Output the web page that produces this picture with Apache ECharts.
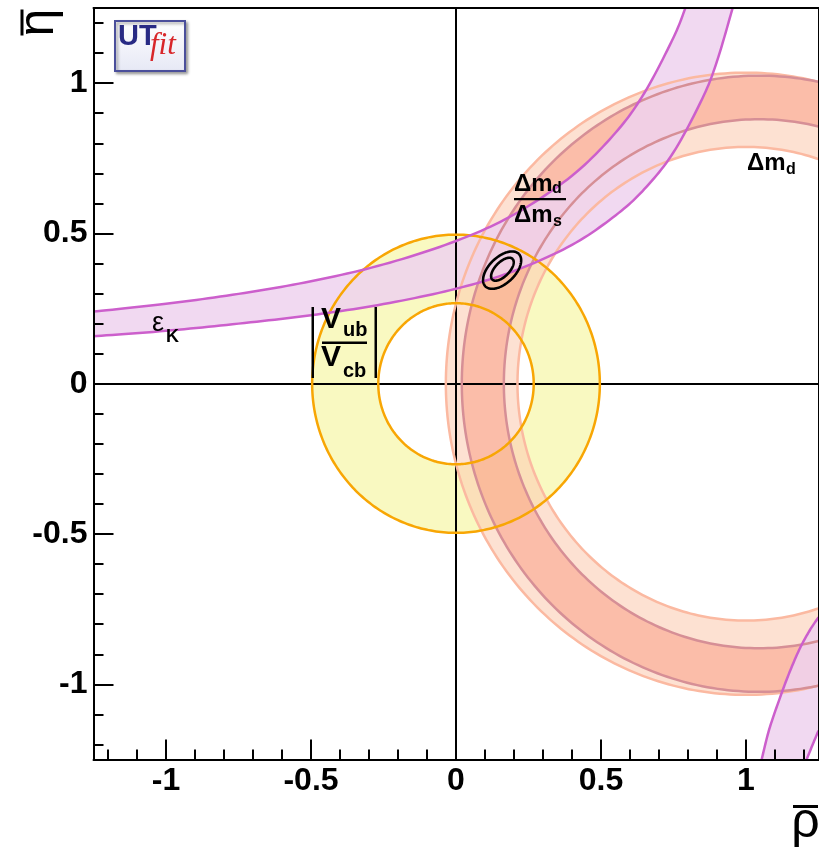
<!DOCTYPE html>
<html>
<head>
<meta charset="utf-8">
<script src="https://cdn.jsdelivr.net/npm/echarts@6/dist/echarts.min.js"></script>
<style>
  html, body { margin: 0; padding: 0; background: #ffffff; }
  #chart { width: 819px; height: 854px; }
</style>
</head>
<body>
<div id="chart"></div>
<script>
// ---- axis ranges and ticks ----
const rhoRange = [-1.25, 1.25];
const etaRange = [-1.25, 1.25];
const majorTicks = [-1, -0.5, 0, 0.5, 1];
const minorTicks = [-1.2, -1.1, -1.0, -0.9, -0.8, -0.7, -0.6, -0.5, -0.4, -0.3, -0.2, -0.1, 0,
                    0.1, 0.2, 0.3, 0.4, 0.5, 0.6, 0.7, 0.8, 0.9, 1.0, 1.1, 1.2];

// ---- ring constraints: [centre rho, centre eta, outer radius, inner radius] ----
const vubVcbRing = [0, 0, 0.496, 0.268];
const dmdRing = [1.0, 0, 1.035, 0.788];
const dmdDmsRing = [1.045, 0, 1.025, 0.88];

// ---- epsilon_K band, upper-left branch: [rho, eta] ----
const epsKUpper = [
  [-1.25, 0.240], [-1.0, 0.266], [-0.75, 0.299], [-0.5, 0.341], [-0.25, 0.397],
  [0.0, 0.475], [0.2, 0.563], [0.4, 0.692], [0.55, 0.835], [0.65, 0.968],
  [0.75, 1.152], [0.791, 1.25]
];
const epsKLower = [
  [-1.25, 0.158], [-1.0, 0.176], [-0.75, 0.200], [-0.5, 0.228], [-0.25, 0.265],
  [0.0, 0.316], [0.2, 0.375], [0.4, 0.462], [0.55, 0.560], [0.65, 0.648],
  [0.75, 0.770], [0.85, 0.950], [0.9, 1.073], [0.954, 1.25]
];
// ---- epsilon_K band, lower-right branch ----
const epsKRightInner = [
  [1.054, -1.25], [1.08, -1.15], [1.117, -1.045], [1.15, -0.96], [1.186, -0.88],
  [1.22, -0.82], [1.25, -0.777]
];
const epsKRightOuter = [
  [1.209, -1.25], [1.23, -1.20], [1.25, -1.154]
];

// ---- fit contours: [rho, eta, semi-major, semi-minor, tilt in degrees] ----
const fitContours = [
  [0.159, 0.378, 0.079, 0.044, 42],
  [0.160, 0.381, 0.049, 0.024, 44]
];

// ---- colours ----
const colYellowFill = '#f9f9c1';
const colOrange = '#f8a604';
const colDmdFill = 'rgba(252,205,180,0.6)';
const colDmdLine = '#fbb9a1';
const colDmsFill = 'rgba(248,150,125,0.48)';
const colDmsLine = '#d68f96';
const colEpsFill = 'rgba(239,210,239,0.85)';
const colEpsLine = '#cc5fcc';

// ---- drawing helpers ----
function catmull(p, seg) {
  if (p.length < 3) return p.slice();
  const out = [];
  for (let i = 0; i < p.length - 1; i++) {
    const p0 = p[Math.max(i - 1, 0)], p1 = p[i], p2 = p[i + 1], p3 = p[Math.min(i + 2, p.length - 1)];
    for (let s = 0; s < seg; s++) {
      const t = s / seg, t2 = t * t, t3 = t2 * t;
      const q = [0, 1].map(k => 0.5 * ((2 * p1[k]) + (-p0[k] + p2[k]) * t +
        (2 * p0[k] - 5 * p1[k] + 4 * p2[k] - p3[k]) * t2 +
        (-p0[k] + 3 * p1[k] - 3 * p2[k] + p3[k]) * t3));
      out.push(q);
    }
  }
  out.push(p[p.length - 1]);
  return out;
}

function circlePoints(api, cx, cy, r, n) {
  const pts = [];
  for (let i = 0; i <= n; i++) {
    const t = 2 * Math.PI * i / n;
    pts.push(api.coord([cx + r * Math.cos(t), cy + r * Math.sin(t)]));
  }
  return pts;
}

function ringFill(ring, color, z) {
  return {
    type: 'custom', coordinateSystem: 'cartesian2d', clip: true, silent: true, z: z,
    dimensions: ['rho', 'eta', 'ro', 'ri'], encode: { x: 'rho', y: 'eta' },
    data: [ring],
    renderItem: function (params, api) {
      const cx = api.value(0), cy = api.value(1), ro = api.value(2), ri = api.value(3);
      const outer = circlePoints(api, cx, cy, ro, 360);
      const inner = circlePoints(api, cx, cy, ri, 360).reverse();
      return { type: 'polygon', shape: { points: outer.concat(inner) }, style: { fill: color, stroke: null } };
    }
  };
}

function ringEdges(ring, color, z) {
  return {
    type: 'custom', coordinateSystem: 'cartesian2d', clip: true, silent: true, z: z,
    dimensions: ['rho', 'eta', 'ro', 'ri'], encode: { x: 'rho', y: 'eta' },
    data: [ring],
    renderItem: function (params, api) {
      const cx = api.value(0), cy = api.value(1);
      return {
        type: 'group',
        children: [api.value(2), api.value(3)].map(r => ({
          type: 'polyline',
          shape: { points: circlePoints(api, cx, cy, r, 360) },
          style: { stroke: color, lineWidth: 2.5, fill: null }
        }))
      };
    }
  };
}

// flatten a list of edges into [rho, eta, edgeIndex] rows
function edgeRows(edges) {
  const rows = [];
  edges.forEach((e, k) => e.forEach(p => rows.push([p[0], p[1], k])));
  return rows;
}

function collectEdges(params, api) {
  const groups = [];
  for (let i = 0; i < params.dataInsideLength; i++) {
    const k = api.value(2, i);
    (groups[k] = groups[k] || []).push(api.coord([api.value(0, i), api.value(1, i)]));
  }
  return groups.map(g => catmull(g, 12));
}

function bandFill(edges, color, z) {
  return {
    type: 'custom', coordinateSystem: 'cartesian2d', clip: true, silent: true, z: z,
    dimensions: ['rho', 'eta', 'edge'], encode: { x: 'rho', y: 'eta' },
    data: edgeRows(edges),
    renderItem: function (params, api) {
      if (params.dataIndexInside !== 0) return;
      const g = collectEdges(params, api);
      return { type: 'polygon', shape: { points: g[0].concat(g[1].slice().reverse()) }, style: { fill: color, stroke: null } };
    }
  };
}

function bandEdges(edges, color, width, z) {
  return {
    type: 'custom', coordinateSystem: 'cartesian2d', clip: true, silent: true, z: z,
    dimensions: ['rho', 'eta', 'edge'], encode: { x: 'rho', y: 'eta' },
    data: edgeRows(edges),
    renderItem: function (params, api) {
      if (params.dataIndexInside !== 0) return;
      const g = collectEdges(params, api);
      return {
        type: 'group',
        children: g.map(pts => ({ type: 'polyline', shape: { points: pts }, style: { stroke: color, lineWidth: width, fill: null } }))
      };
    }
  };
}

function contourSeries(list, z) {
  return {
    type: 'custom', coordinateSystem: 'cartesian2d', clip: true, silent: true, z: z,
    dimensions: ['rho', 'eta', 'a', 'b', 'phi'], encode: { x: 'rho', y: 'eta' },
    data: list,
    renderItem: function (params, api) {
      const cx = api.value(0), cy = api.value(1), a = api.value(2), b = api.value(3);
      const phi = api.value(4) * Math.PI / 180;
      const pts = [];
      for (let i = 0; i <= 180; i++) {
        const t = 2 * Math.PI * i / 180;
        const u = a * Math.cos(t), v = b * Math.sin(t);
        pts.push(api.coord([cx + u * Math.cos(phi) - v * Math.sin(phi), cy + u * Math.sin(phi) + v * Math.cos(phi)]));
      }
      return { type: 'polyline', shape: { points: pts }, style: { stroke: '#000', lineWidth: 2.6, fill: null } };
    }
  };
}

// ---- axes ----
const axisFont = { color: '#000', fontFamily: 'Liberation Sans, Arial, sans-serif', fontWeight: 'bold', fontSize: 32 };
const blackLine = { color: '#000', width: 2 };

function mainAxis(range, position, margin) {
  return {
    type: 'value', min: range[0], max: range[1], position: position, z: 20,
    axisLine: { show: true, onZero: false, lineStyle: blackLine },
    axisTick: { show: true, inside: true, length: 20, customValues: majorTicks, lineStyle: blackLine },
    axisLabel: Object.assign({ customValues: majorTicks, margin: margin }, axisFont),
    splitLine: { show: false }
  };
}
function minorAxis(range, position) {
  return {
    type: 'value', min: range[0], max: range[1], position: position, z: 20,
    axisLine: { show: false, onZero: false },
    axisTick: { show: true, inside: true, length: 10, customValues: minorTicks, lineStyle: blackLine },
    axisLabel: { show: false }, splitLine: { show: false }
  };
}
function frameAxis(range, position) {
  return {
    type: 'value', min: range[0], max: range[1], position: position, z: 20,
    axisLine: { show: true, onZero: false, lineStyle: blackLine },
    axisTick: { show: false }, axisLabel: { show: false }, splitLine: { show: false }
  };
}

// ---- annotations ----
const bold = 'bold ';
const sans = '"Liberation Sans", Arial, sans-serif';
function label(text, x, y, size, weight, extra) {
  return Object.assign({
    type: 'text', x: x, y: y, z: 100, silent: true,
    style: { text: text, font: (weight || '') + size + 'px ' + sans, fill: '#000', align: 'left', verticalAlign: 'middle' }
  }, extra || {});
}
function bar(x, y, w, h) {
  return { type: 'rect', z: 100, silent: true, shape: { x: x, y: y, width: w, height: h }, style: { fill: '#000' } };
}

const graphics = [
  // UTfit logo
  {
    type: 'rect', z: 100, silent: true, shape: { x: 115, y: 21, width: 70, height: 50 },
    style: {
      fill: { type: 'linear', x: 0, y: 0, x2: 0, y2: 1, colorStops: [{ offset: 0, color: '#ffffff' }, { offset: 1, color: '#e6e8f5' }] },
      stroke: '#4b4f9b', lineWidth: 2, shadowBlur: 3, shadowColor: 'rgba(0,0,0,0.35)', shadowOffsetX: 2, shadowOffsetY: 2
    }
  },
  { type: 'text', x: 118, y: 37, z: 101, silent: true,
    style: { text: 'UT', font: 'bold 29px "Liberation Sans Narrow", "Liberation Sans", sans-serif', fill: '#282a84', align: 'left', verticalAlign: 'middle' } },
  { type: 'text', x: 150, y: 46, z: 101, silent: true,
    style: { text: 'fit', font: 'italic 31px "Liberation Serif", serif', fill: '#d8262a', align: 'left', verticalAlign: 'middle' } },

  // Δm_d / Δm_s
  label('Δm', 514, 184, 24, bold),
  label('d', 552, 189, 16, bold),
  bar(514, 198, 52, 2.2),
  label('Δm', 514, 215, 24, bold),
  label('s', 553, 222, 16, bold),

  // Δm_d
  label('Δm', 747, 163, 24, bold),
  label('d', 786, 170, 16, bold),

  // ε_K
  label('ε', 152, 324, 27, ''),
  label('K', 166, 337, 18, bold),

  // |V_ub / V_cb|
  bar(311.5, 307, 2.5, 71),
  bar(374.5, 307, 2.5, 71),
  label('V', 321, 319.5, 30, bold),
  label('ub', 343, 330, 20, bold),
  bar(322, 341.5, 45, 2.5),
  label('V', 321, 358, 30, bold),
  label('cb', 343, 371, 20, bold),

  // axis titles
  {
    type: 'group', x: 39, y: 22.5, rotation: Math.PI / 2, z: 100, silent: true,
    children: [
      { type: 'text', z: 100, style: { text: 'η', font: '50px ' + sans, fill: '#000', align: 'center', verticalAlign: 'middle' } },
      { type: 'rect', z: 100, shape: { x: -13, y: -18.5, width: 26, height: 3 }, style: { fill: '#000' } }
    ]
  },
  { type: 'text', x: 805.5, y: 823.5, z: 100, silent: true,
    style: { text: 'ρ', font: '50px ' + sans, fill: '#000', align: 'center', verticalAlign: 'middle' } },
  bar(793, 805, 25, 3)
];

// ---- chart ----
const chart = echarts.init(document.getElementById('chart'), null, { renderer: 'canvas' });
chart.setOption({
  animation: false,
  backgroundColor: '#ffffff',
  grid: { left: 93.5, right: 0.5, top: 8, bottom: 94.5, show: false },
  xAxis: [mainAxis(rhoRange, 'bottom', 6), minorAxis(rhoRange, 'bottom'), frameAxis(rhoRange, 'top')],
  yAxis: [mainAxis(etaRange, 'left', 6), minorAxis(etaRange, 'left'), frameAxis(etaRange, 'right')],
  series: [
    ringFill(vubVcbRing, colYellowFill, 1),
    ringFill(dmdRing, colDmdFill, 2),
    ringFill(dmdDmsRing, colDmsFill, 3),
    bandFill([epsKUpper, epsKLower], colEpsFill, 4),
    bandFill([epsKRightInner, epsKRightOuter], colEpsFill, 4),
    ringEdges(dmdRing, colDmdLine, 5),
    ringEdges(dmdDmsRing, colDmsLine, 6),
    ringEdges(vubVcbRing, colOrange, 7),
    bandEdges([epsKUpper, epsKLower], colEpsLine, 2.5, 8),
    bandEdges([epsKRightInner, epsKRightOuter], colEpsLine, 2.5, 8),
    contourSeries(fitContours, 9),
    {
      type: 'line', data: [], z: 10, silent: true,
      markLine: {
        silent: true, symbol: ['none', 'none'], label: { show: false },
        lineStyle: { color: '#000', width: 2, type: 'solid' },
        emphasis: { disabled: true },
        data: [{ xAxis: 0 }, { yAxis: 0 }]
      }
    }
  ],
  graphic: graphics
});
</script>
</body>
</html>
